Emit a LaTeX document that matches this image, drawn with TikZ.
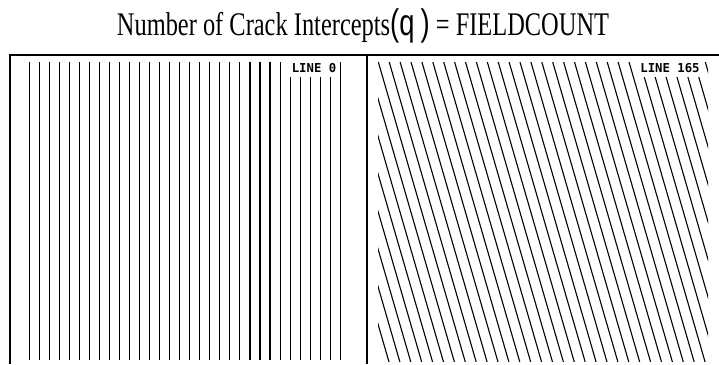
\documentclass[tikz,border=0pt]{standalone}
\usepackage{fontspec}
\newfontfamily\ttlfont[FakeStretch=0.74]{Liberation Serif}
\newfontfamily\symfont[FakeStretch=0.74]{Liberation Sans}
\newfontfamily\scanfont{DejaVu Sans Mono}
\usetikzlibrary{positioning}
\tikzset{
  frame/.style={line width=1.4pt,black},
  hatch/.style={line width=1.1pt,black},
  scanlbl/.style={font=\scanfont\bfseries\fontsize{12.3}{13}\selectfont,
    fill=white,inner xsep=2pt,inner ysep=0pt,text height=10.5pt,
    text depth=4.5pt,anchor=base},
  ttl/.style={font=\ttlfont\fontsize{33}{36}\selectfont,inner sep=0pt,anchor=base},
}

\begin{document}
\begin{tikzpicture}[x=1pt,y=-1pt]
  \useasboundingbox (0,0) rectangle (719,364);
  % frame round both scans
  \draw[frame] (10,364) -- (10,55) -- (719,55);
  \draw[frame] (367,55) -- (367,364);
  % left scan, vertical lines
  \foreach \i in {0,...,31}
    \draw[hatch] ({29.3+10.03*\i},62) -- ++(0,298);
  \node[scanlbl] (lbl0) at (314,72.5) {LINE 0};
  % right scan, slanted lines
  \begin{scope}
    \clip (378,62) rectangle (708,361);
    \foreach \j in {0,...,37}
      \draw[hatch] ({302+10.9*\j},62) -- ++(87,300);
  \end{scope}
  \node[scanlbl] (lbl165) at (670,72.5) {LINE 165};
  \node[ttl] (title) at (363,35) {Number of Crack Intercepts{\symfont\fontsize{37}{38}\selectfont(q\,)} = FIELDCOUNT};
\end{tikzpicture}
\end{document}
